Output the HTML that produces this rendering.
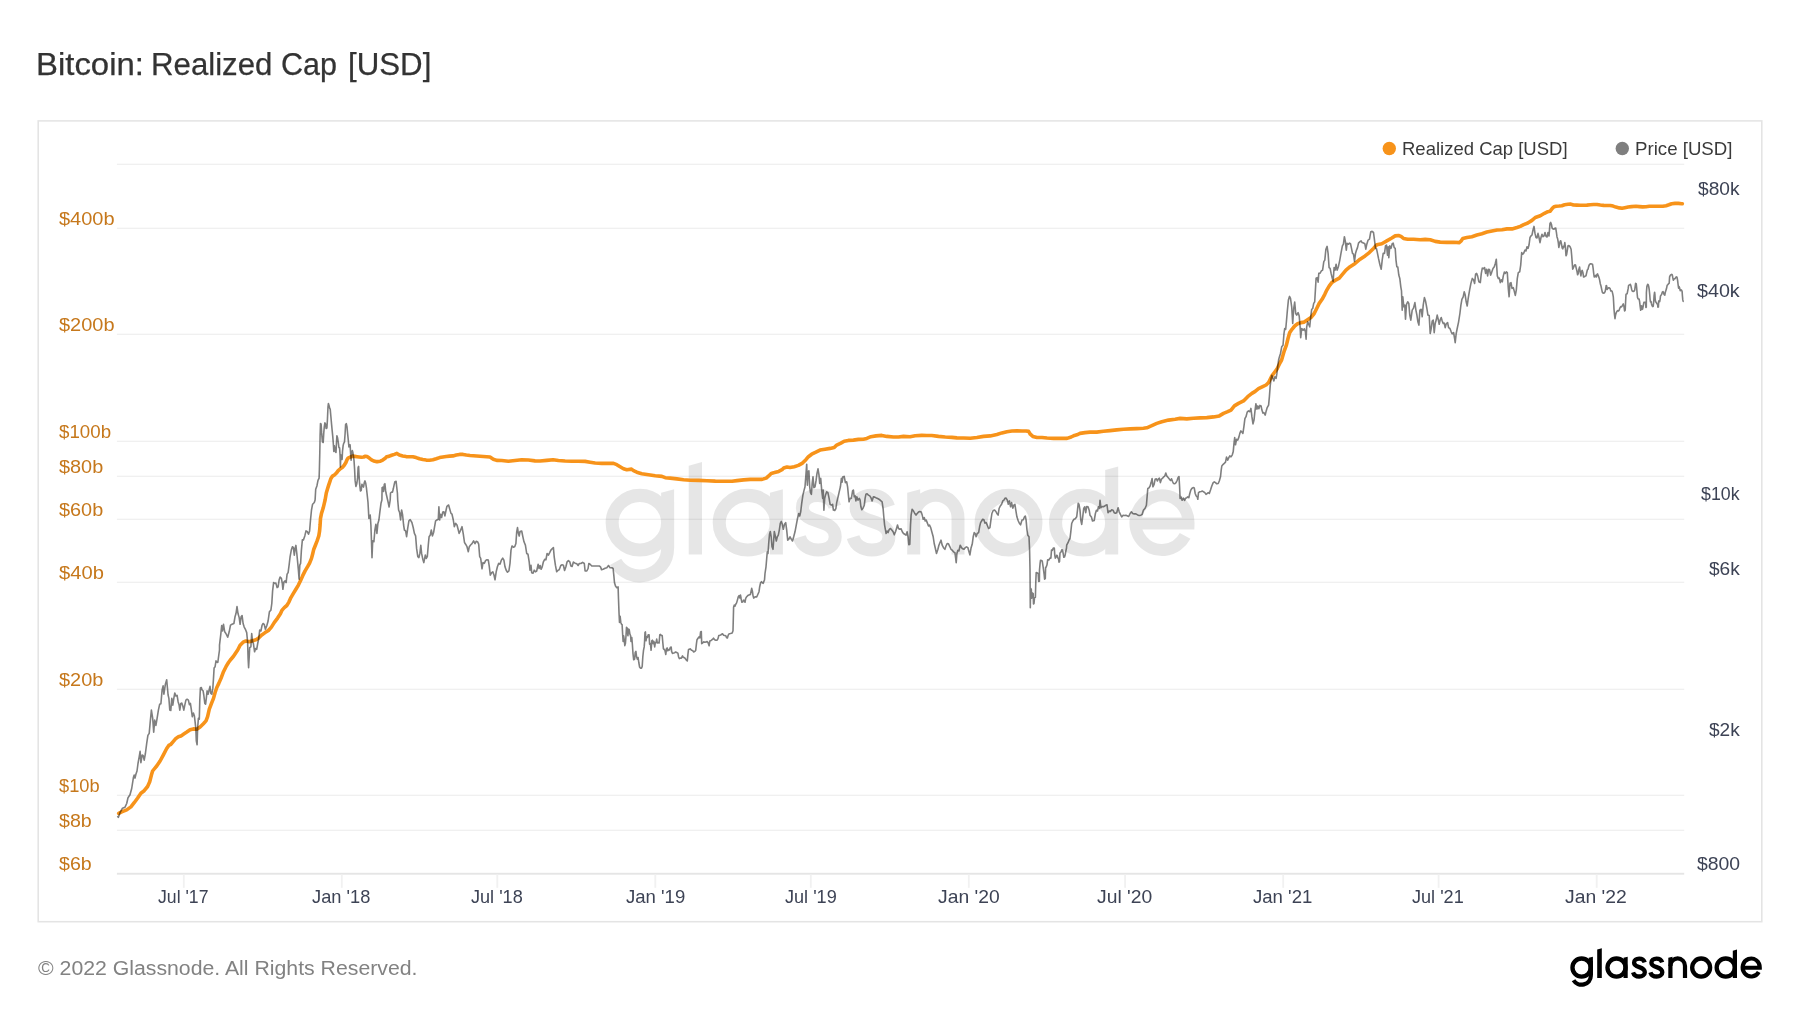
<!DOCTYPE html><html><head><meta charset="utf-8"><title>Bitcoin: Realized Cap [USD]</title><style>

html,body{margin:0;padding:0;background:#fff;}
body{width:1800px;height:1013px;position:relative;overflow:hidden;font-family:"Liberation Sans",sans-serif;}
#txt{position:absolute;left:0;top:0;width:1800px;height:1013px;will-change:transform;}
.t{position:absolute;white-space:nowrap;line-height:1;transform-origin:0 50%;}
.tt{font-size:31px;color:#333333;-webkit-text-stroke:0.25px #333333;}
.ll{font-size:18.6px;color:#c6781c;}
.rl{font-size:18.6px;color:#3d4355;}
.xl{font-size:18.6px;color:#3d4355;}
.lg{font-size:17.7px;color:#3a3a3a;}
.foot{font-size:20px;color:#828282;}

</style></head><body>
<svg width="1800" height="1013" viewBox="0 0 1800 1013" style="position:absolute;left:0;top:0"><rect x="38.2" y="120.9" width="1723.6" height="800.8" fill="#ffffff" stroke="#e4e4e4" stroke-width="1.55"/><rect x="116.9" y="163.65" width="1567.3" height="1.4" fill="#f0f0f0"/><rect x="116.9" y="227.65" width="1567.3" height="1.4" fill="#f0f0f0"/><rect x="116.9" y="333.65" width="1567.3" height="1.4" fill="#f0f0f0"/><rect x="116.9" y="440.65" width="1567.3" height="1.4" fill="#f0f0f0"/><rect x="116.9" y="475.65" width="1567.3" height="1.4" fill="#f0f0f0"/><rect x="116.9" y="518.65" width="1567.3" height="1.4" fill="#f0f0f0"/><rect x="116.9" y="581.65" width="1567.3" height="1.4" fill="#f0f0f0"/><rect x="116.9" y="688.65" width="1567.3" height="1.4" fill="#f0f0f0"/><rect x="116.9" y="794.65" width="1567.3" height="1.4" fill="#f0f0f0"/><rect x="116.9" y="829.65" width="1567.3" height="1.4" fill="#f0f0f0"/><rect x="116.9" y="872.8" width="1567.3" height="1.9" fill="#e5e5e5"/><rect x="182.9" y="874.5" width="1.8" height="13.3" fill="#f1f1f1"/><rect x="340.9" y="874.5" width="1.8" height="13.3" fill="#f1f1f1"/><rect x="496.4" y="874.5" width="1.8" height="13.3" fill="#f1f1f1"/><rect x="654.4" y="874.5" width="1.8" height="13.3" fill="#f1f1f1"/><rect x="809.9" y="874.5" width="1.8" height="13.3" fill="#f1f1f1"/><rect x="967.9" y="874.5" width="1.8" height="13.3" fill="#f1f1f1"/><rect x="1124.2" y="874.5" width="1.8" height="13.3" fill="#f1f1f1"/><rect x="1282.3" y="874.5" width="1.8" height="13.3" fill="#f1f1f1"/><rect x="1437.7" y="874.5" width="1.8" height="13.3" fill="#f1f1f1"/><rect x="1595.8" y="874.5" width="1.8" height="13.3" fill="#f1f1f1"/><g fill="none" stroke="#000" opacity="0.095"><ellipse cx="639.85" cy="522.70" rx="27.70" ry="27.30" stroke-width="13.1"/><polygon points="661.10,492.71 674.10,489.20 674.10,547.65 661.10,547.65" stroke="none" fill="#000"/><path d="M667.60,502.00 V548.65 A27.75,27.20 0 0 1 615.58,561.84" stroke-width="13.0"/><polygon points="688.70,465.69 702.00,462.10 702.00,554.58 688.70,554.58" stroke="none" fill="#000"/><ellipse cx="747.80" cy="522.70" rx="28.55" ry="27.30" stroke-width="13.1"/><polygon points="769.90,492.71 782.90,489.20 782.90,554.58 769.90,554.58" stroke="none" fill="#000"/><path transform="translate(793.60,556.40) scale(3.0377,3.0636)" d="M13.6,-16.2 C12.8,-18.6 10.6,-19.9 8,-19.9 C5,-19.9 2.9,-18.3 2.9,-15.9 C2.9,-10.3 13.7,-12.6 13.7,-6.4 C13.7,-3.7 11.3,-2.1 8.1,-2.1 C5,-2.1 2.7,-3.6 1.9,-6.3" stroke-width="4.294"/><path transform="translate(847.30,556.40) scale(3.0377,3.0636)" d="M13.6,-16.2 C12.8,-18.6 10.6,-19.9 8,-19.9 C5,-19.9 2.9,-18.3 2.9,-15.9 C2.9,-10.3 13.7,-12.6 13.7,-6.4 C13.7,-3.7 11.3,-2.1 8.1,-2.1 C5,-2.1 2.7,-3.6 1.9,-6.3" stroke-width="4.294"/><polygon points="907.20,492.71 920.20,489.20 920.20,554.58 907.20,554.58" stroke="none" fill="#000"/><path d="M913.70,517.94 A22.15,22.59 0 0 1 958.00,517.94 V554.58" stroke-width="13.0"/><ellipse cx="1008.55" cy="522.70" rx="27.40" ry="27.30" stroke-width="13.1"/><ellipse cx="1083.60" cy="522.70" rx="28.05" ry="27.30" stroke-width="13.1"/><polygon points="1105.20,470.11 1118.20,466.60 1118.20,554.58 1105.20,554.58" stroke="none" fill="#000"/><path d="M1135.75,523.51 H1188.45 A26.50,27.30 0 1 0 1185.13,535.94" stroke-width="12.18"/></g><path d="M118.7,813.4 L121.7,811.9 L126.7,809.9 L130.9,806.9 L134.2,802.7 L137.5,798.2 L140.9,793.2 L144.2,790.7 L147.6,786.5 L149.7,781.8 L151.4,775.1 L152.6,771.0 L154.2,769.0 L156.7,766.0 L160.1,761.0 L163.4,754.8 L166.7,748.5 L168.8,745.4 L170.9,744.3 L173.4,741.4 L175.9,738.4 L178.4,736.8 L180.9,736.1 L183.4,734.3 L186.8,732.1 L190.1,729.8 L193.4,728.9 L196.8,729.3 L200.1,727.1 L203.4,723.8 L206.0,720.9 L207.6,716.7 L209.3,709.2 L211.5,703.4 L213.5,698.4 L215.1,692.5 L216.8,687.5 L218.8,683.4 L221.0,678.4 L223.5,671.7 L226.0,666.7 L228.5,662.5 L231.0,659.2 L233.5,656.3 L236.0,652.5 L237.7,650.0 L240.1,645.2 L243.1,642.2 L245.9,641.0 L249.2,641.8 L252.6,640.7 L255.9,639.8 L258.4,638.2 L261.4,635.2 L265.1,632.6 L268.4,630.5 L271.4,627.1 L274.2,622.6 L277.6,618.1 L280.4,613.8 L282.1,610.1 L284.3,607.6 L286.8,605.5 L288.9,602.1 L290.9,597.6 L293.4,593.4 L295.9,589.3 L298.4,585.1 L300.6,580.4 L302.6,575.9 L305.1,570.9 L307.6,566.7 L309.6,563.1 L311.5,558.4 L312.6,554.2 L313.8,549.2 L315.5,545.0 L317.1,540.9 L318.8,535.9 L319.6,530.9 L320.1,525.0 L320.5,518.4 L321.5,513.4 L323.1,508.3 L324.3,503.3 L325.1,500.0 L326.3,493.0 L327.4,489.3 L328.6,485.4 L329.7,482.1 L330.8,478.7 L332.5,476.1 L334.7,474.8 L336.4,473.1 L338.0,470.9 L340.3,468.7 L342.5,467.2 L344.2,465.3 L345.9,462.5 L347.0,459.8 L348.1,458.1 L350.3,457.0 L352.5,456.1 L354.8,456.4 L357.0,456.7 L359.2,457.0 L361.5,457.3 L363.7,457.0 L365.4,456.2 L367.0,456.5 L369.3,458.1 L371.5,459.8 L373.7,461.0 L376.0,461.6 L378.2,461.6 L380.4,461.2 L382.7,460.1 L384.9,458.6 L386.6,456.7 L388.8,456.4 L391.6,455.3 L394.4,454.4 L396.9,453.4 L399.4,455.0 L402.7,455.9 L406.1,456.6 L409.4,456.7 L412.8,456.7 L416.1,457.6 L419.5,458.8 L422.8,459.5 L426.2,460.1 L429.5,460.3 L432.9,459.8 L436.2,458.8 L439.6,457.6 L442.9,457.0 L446.2,456.5 L449.6,456.1 L452.9,455.9 L456.3,455.0 L459.6,454.4 L463.0,454.4 L466.3,455.0 L470.0,455.5 L490.0,457.0 L493.3,459.2 L496.7,460.4 L501.7,460.5 L508.4,461.2 L515.0,460.5 L521.7,459.7 L528.4,460.0 L535.0,460.9 L540.1,461.0 L546.7,460.4 L553.1,459.7 L558.4,460.5 L565.1,461.0 L571.8,461.2 L578.4,461.2 L585.1,461.4 L590.1,462.2 L595.1,463.0 L601.8,463.4 L608.5,463.4 L613.5,463.4 L616.8,464.7 L620.1,466.7 L623.5,468.7 L626.8,469.7 L631.5,469.1 L633.5,470.6 L636.8,472.2 L641.8,473.7 L648.5,474.7 L655.2,475.7 L661.9,476.4 L665.2,477.7 L670.2,478.1 L676.9,478.9 L683.6,479.7 L690.2,480.2 L698.6,480.4 L706.9,480.7 L715.3,481.1 L723.6,481.2 L732.0,481.2 L737.0,480.6 L743.6,479.9 L750.3,479.4 L757.0,479.4 L762.0,479.4 L766.2,478.1 L768.7,475.9 L771.2,473.4 L774.5,472.6 L778.7,471.4 L782.0,469.7 L783.7,468.0 L787.0,467.0 L790.0,467.5 L794.2,466.7 L798.4,465.4 L802.5,463.1 L805.9,459.7 L808.4,456.7 L811.7,454.2 L815.9,452.2 L820.0,450.1 L825.0,449.2 L830.1,448.4 L834.2,447.6 L836.7,445.1 L840.9,443.1 L844.2,441.2 L848.4,440.4 L853.4,440.1 L858.4,439.4 L863.4,439.2 L866.8,438.4 L870.9,436.7 L876.0,435.9 L881.8,435.4 L886.8,436.4 L893.5,437.0 L898.5,437.0 L903.5,436.4 L910.1,436.7 L915.2,435.7 L921.8,435.4 L926.8,435.5 L931.8,435.5 L938.5,436.4 L945.2,437.0 L951.9,437.4 L956.9,437.9 L963.5,438.0 L970.2,438.2 L976.9,437.5 L983.6,436.4 L990.2,435.9 L996.9,434.5 L1001.9,432.9 L1006.9,431.7 L1011.9,431.0 L1016.9,430.9 L1022.0,431.0 L1026.1,431.0 L1028.6,431.4 L1030.3,434.2 L1032.8,436.4 L1037.0,437.5 L1042.0,437.5 L1047.0,438.0 L1053.7,438.4 L1060.3,438.4 L1067.0,438.4 L1071.2,437.0 L1074.5,435.4 L1077.8,434.5 L1080.0,433.4 L1085.0,432.6 L1090.0,432.1 L1096.7,432.1 L1103.4,431.2 L1110.0,430.6 L1116.7,429.9 L1123.4,429.2 L1130.1,428.9 L1136.7,428.6 L1143.4,428.2 L1146.8,427.8 L1151.8,425.7 L1156.8,423.4 L1161.8,421.7 L1168.5,420.1 L1175.1,419.2 L1180.1,418.4 L1186.8,418.9 L1193.5,418.2 L1200.2,417.9 L1206.8,417.6 L1213.5,416.9 L1219.3,415.9 L1223.5,413.4 L1227.7,411.7 L1231.0,410.1 L1234.4,405.9 L1238.5,403.4 L1243.5,400.9 L1247.7,396.7 L1251.9,393.4 L1255.2,391.4 L1258.5,388.7 L1262.7,386.7 L1266.1,385.0 L1268.6,382.5 L1270.2,379.2 L1271.9,375.9 L1274.4,372.5 L1276.9,369.2 L1278.6,365.8 L1280.2,362.5 L1281.6,360.0 L1284.2,351.0 L1286.4,345.2 L1288.0,338.5 L1289.7,332.6 L1292.0,329.3 L1294.7,326.0 L1297.6,323.8 L1300.9,322.6 L1304.2,322.1 L1307.6,319.8 L1310.9,317.6 L1314.2,313.5 L1316.7,308.5 L1319.2,303.4 L1322.1,299.3 L1324.8,294.3 L1326.8,290.1 L1329.3,285.9 L1331.8,282.6 L1335.1,280.4 L1339.3,278.1 L1342.6,274.2 L1346.0,270.1 L1350.1,266.7 L1355.1,263.4 L1360.1,259.2 L1365.1,255.9 L1369.3,252.6 L1373.5,248.4 L1376.8,244.7 L1381.8,243.7 L1386.8,240.9 L1391.8,238.0 L1395.2,235.9 L1398.5,235.5 L1401.0,236.4 L1403.5,238.4 L1407.7,239.2 L1413.5,239.2 L1420.2,239.7 L1425.2,239.4 L1430.2,239.7 L1435.2,241.4 L1440.2,242.1 L1446.9,242.4 L1453.6,242.2 L1459.4,242.6 L1461.1,240.9 L1462.8,238.4 L1466.9,237.5 L1471.9,236.7 L1476.9,235.0 L1481.9,233.7 L1486.9,232.0 L1492.0,230.9 L1497.0,230.0 L1502.0,229.7 L1507.0,228.9 L1512.0,228.9 L1517.0,227.5 L1520.3,226.4 L1523.7,224.7 L1527.8,223.0 L1532.0,220.4 L1535.3,217.5 L1540.3,215.8 L1544.5,213.3 L1547.8,211.7 L1550.0,211.3 L1552.3,208.4 L1554.0,206.8 L1556.2,206.2 L1559.0,206.0 L1561.8,205.7 L1564.6,204.8 L1568.0,204.3 L1570.8,204.1 L1573.5,205.0 L1576.9,205.1 L1580.2,205.2 L1583.6,205.2 L1586.9,205.1 L1590.3,204.7 L1593.6,204.5 L1597.0,204.5 L1600.3,205.0 L1603.7,205.4 L1607.0,205.5 L1610.3,205.5 L1613.1,206.1 L1615.9,207.1 L1619.3,207.9 L1622.1,208.3 L1624.8,207.7 L1628.2,207.0 L1631.5,206.6 L1636.0,206.3 L1639.3,206.6 L1642.7,206.9 L1646.0,206.8 L1649.4,206.3 L1653.8,206.3 L1658.3,206.3 L1662.8,206.2 L1666.1,205.7 L1668.9,204.8 L1671.7,203.7 L1675.0,203.4 L1678.4,203.4 L1681.7,203.7 L1682.3,203.8" fill="none" stroke="#f7931a" stroke-width="3.6" stroke-linejoin="round" stroke-linecap="round"/><path d="M117.5,816.0 L118.3,817.4 L120.0,812.7 L122.5,808.2 L125.0,807.2 L126.7,803.5 L128.0,797.7 L130.0,794.8 L131.7,788.5 L133.4,777.6 L134.2,775.1 L135.0,778.1 L135.9,774.3 L137.0,771.0 L138.0,763.5 L139.2,756.8 L140.1,751.3 L140.9,762.6 L142.1,755.1 L143.1,755.5 L144.2,760.1 L145.4,753.5 L146.7,743.4 L147.9,735.4 L149.2,733.4 L150.1,723.4 L151.4,710.1 L152.7,718.4 L153.7,732.1 L154.7,720.1 L155.9,725.4 L157.1,718.4 L158.4,710.1 L159.7,704.2 L160.9,703.7 L162.1,690.0 L163.1,685.9 L163.9,694.2 L165.4,684.2 L166.7,679.7 L167.4,687.5 L168.1,695.0 L168.9,698.4 L169.8,710.1 L170.8,710.4 L171.8,698.4 L172.8,705.1 L173.8,698.4 L174.8,693.0 L175.9,695.9 L177.1,695.4 L178.1,701.7 L179.1,705.1 L179.8,710.1 L180.8,703.4 L181.8,703.1 L182.8,705.9 L183.8,710.1 L184.8,705.1 L185.9,700.1 L187.1,699.2 L188.4,700.1 L189.4,704.7 L190.4,703.4 L191.4,710.1 L192.3,716.7 L193.4,713.1 L194.4,715.9 L195.1,721.8 L195.8,728.4 L196.3,740.9 L197.1,744.8 L197.6,728.4 L198.4,718.4 L199.3,719.2 L199.8,700.1 L200.4,688.0 L201.3,687.5 L202.1,690.0 L203.1,690.9 L203.8,695.0 L204.8,703.4 L205.6,704.2 L206.5,696.7 L207.1,690.9 L208.1,694.2 L209.1,690.0 L210.0,686.4 L210.8,693.4 L211.8,694.2 L212.8,688.4 L213.5,678.4 L214.1,668.0 L215.1,666.7 L216.0,660.9 L216.8,662.0 L217.8,662.5 L218.8,655.0 L219.5,650.0 L219.5,645.2 L220.7,635.2 L221.7,625.5 L222.5,631.0 L223.5,624.3 L224.7,631.8 L225.9,633.5 L227.7,637.2 L229.2,631.8 L230.5,625.1 L232.0,624.3 L233.9,623.5 L235.0,616.8 L236.0,613.5 L237.0,606.5 L238.0,613.5 L239.2,617.6 L240.1,624.3 L241.1,616.8 L242.1,615.6 L243.1,623.5 L244.2,627.1 L245.4,629.3 L246.7,632.6 L247.6,641.8 L248.1,658.5 L248.6,667.7 L249.2,656.9 L249.7,647.7 L250.9,646.8 L251.7,633.5 L252.6,641.8 L253.4,643.5 L254.6,651.8 L255.6,648.5 L256.7,649.3 L257.7,643.5 L258.7,638.5 L259.7,630.1 L260.9,631.0 L262.1,625.1 L263.1,623.5 L264.2,624.3 L265.4,629.3 L266.7,626.0 L268.1,621.0 L269.4,611.8 L270.9,610.1 L271.8,603.5 L272.6,590.9 L273.6,582.6 L274.8,583.4 L275.9,583.1 L277.1,587.6 L278.1,586.8 L279.1,580.1 L280.1,577.1 L281.4,578.4 L282.3,583.4 L282.9,589.3 L283.9,582.1 L285.1,580.9 L286.1,582.6 L287.1,574.2 L288.1,572.6 L289.1,565.1 L290.1,556.7 L291.3,550.1 L292.4,546.7 L293.4,547.6 L294.3,555.1 L295.1,548.4 L295.9,545.4 L296.8,553.4 L297.6,561.7 L298.4,570.1 L299.1,579.3 L299.8,565.1 L300.6,563.4 L301.4,550.1 L302.4,539.7 L303.4,540.0 L304.8,535.9 L306.0,530.9 L307.1,531.4 L308.5,534.2 L309.6,530.9 L310.5,520.0 L311.5,510.0 L312.6,504.2 L314.3,502.5 L315.1,500.0 L315.7,489.3 L316.9,486.0 L318.0,480.4 L319.1,478.2 L319.4,469.2 L319.8,452.5 L320.1,435.8 L320.5,423.5 L321.1,424.1 L321.6,432.4 L322.4,441.9 L323.2,442.5 L323.8,432.4 L324.3,426.9 L324.9,422.9 L325.6,424.1 L326.1,428.5 L326.9,428.0 L327.4,420.2 L328.0,406.8 L328.4,403.6 L329.1,405.7 L329.7,408.4 L330.2,409.0 L330.9,416.8 L331.6,424.6 L332.2,430.8 L332.8,436.9 L333.4,444.7 L333.8,451.4 L334.4,445.8 L334.9,449.2 L335.5,451.9 L336.0,452.5 L336.5,442.5 L336.9,435.8 L337.6,438.0 L338.3,442.5 L338.9,447.5 L339.6,448.0 L340.1,455.9 L340.4,467.0 L340.8,454.7 L341.4,459.2 L342.1,459.4 L342.5,451.4 L343.1,445.8 L343.6,443.6 L344.5,441.9 L345.1,433.5 L345.6,424.6 L346.3,423.7 L347.0,426.9 L347.6,433.5 L348.3,440.2 L348.9,446.9 L349.4,444.7 L350.1,444.7 L350.5,451.4 L351.1,460.3 L351.6,453.6 L352.3,450.5 L352.9,452.5 L353.4,455.9 L354.0,460.3 L354.6,469.2 L355.1,480.4 L355.9,486.5 L356.8,483.7 L357.6,478.2 L358.1,467.6 L358.6,466.4 L359.0,474.8 L359.6,483.7 L360.4,491.0 L361.2,490.4 L361.9,484.3 L362.6,485.4 L363.5,487.1 L364.3,482.6 L365.0,480.9 L365.7,483.2 L366.4,487.6 L367.0,493.0 L368.0,502.5 L368.9,518.4 L370.2,515.0 L370.9,525.0 L371.5,541.7 L372.0,557.6 L372.7,540.9 L373.9,541.7 L374.9,530.0 L375.9,524.2 L376.9,533.4 L377.9,523.4 L378.9,520.0 L379.9,511.7 L381.0,503.3 L381.9,500.0 L382.1,487.6 L382.9,487.1 L383.6,491.5 L384.3,484.3 L384.9,483.7 L385.6,490.4 L386.0,493.0 L388.2,502.5 L389.1,507.0 L390.2,500.0 L390.5,493.0 L391.6,492.1 L392.5,492.1 L393.3,488.8 L394.4,483.7 L394.9,481.7 L396.1,481.3 L396.6,486.0 L397.4,493.0 L397.7,500.0 L398.6,510.0 L399.6,512.5 L400.6,520.0 L401.6,510.0 L402.6,515.0 L403.6,525.0 L404.4,530.0 L405.6,530.9 L406.6,536.7 L407.7,528.4 L408.9,520.9 L410.2,519.7 L411.9,522.5 L413.2,527.5 L414.4,533.4 L415.6,535.9 L416.6,548.4 L417.8,556.7 L418.9,557.6 L419.9,553.4 L420.8,545.4 L421.6,553.4 L422.8,559.2 L423.8,562.6 L425.3,555.1 L426.3,558.4 L427.3,556.7 L428.3,545.0 L429.1,536.7 L430.3,535.0 L431.3,530.0 L432.4,535.9 L433.6,532.5 L434.6,526.7 L435.6,520.9 L436.9,520.0 L438.3,519.2 L438.9,506.7 L439.6,520.0 L440.6,514.2 L441.6,517.5 L442.8,512.0 L443.9,511.7 L444.9,515.9 L446.1,510.0 L446.9,506.3 L448.6,505.0 L449.8,509.2 L451.0,513.4 L452.0,514.2 L453.3,520.0 L454.3,526.7 L455.6,523.4 L457.0,525.0 L458.1,529.2 L459.1,533.4 L460.3,530.9 L462.0,526.7 L463.3,534.2 L464.5,542.5 L465.6,544.2 L467.0,546.7 L468.3,551.7 L469.3,546.7 L470.6,545.0 L472.0,543.7 L473.6,540.9 L475.0,543.7 L476.2,541.4 L477.5,541.7 L478.7,544.2 L479.7,556.7 L480.7,558.4 L482.0,568.8 L483.0,562.6 L484.3,563.4 L485.7,560.4 L487.0,559.7 L488.3,560.1 L489.3,566.7 L490.3,575.1 L491.7,572.6 L492.8,571.8 L494.0,575.1 L495.0,579.8 L496.2,571.8 L497.4,566.7 L498.7,563.4 L500.0,564.2 L501.4,560.1 L502.7,558.1 L503.9,560.1 L505.0,566.8 L506.2,570.2 L507.5,572.2 L508.9,571.0 L510.0,563.5 L511.0,550.1 L512.0,546.0 L513.4,547.1 L514.7,546.8 L515.9,543.5 L516.7,531.8 L517.5,527.6 L518.4,533.5 L519.2,536.0 L520.0,531.5 L521.7,531.0 L522.9,536.8 L524.0,541.8 L525.4,545.1 L526.7,553.5 L528.0,554.3 L529.2,561.8 L530.0,570.2 L531.0,565.2 L531.7,572.7 L533.0,573.2 L534.2,570.2 L535.4,571.8 L536.7,571.0 L538.1,564.3 L539.1,568.5 L540.1,565.5 L541.1,569.3 L542.1,567.2 L543.4,561.8 L544.7,559.3 L545.9,559.8 L547.1,553.5 L548.4,555.1 L549.7,552.6 L550.9,550.1 L552.1,548.8 L553.4,547.6 L554.2,556.8 L555.4,565.2 L556.7,571.8 L558.1,570.2 L559.2,569.8 L560.8,565.5 L562.1,564.8 L563.4,565.2 L564.6,570.5 L565.9,566.8 L567.1,561.8 L568.4,560.6 L569.8,561.8 L570.9,566.0 L572.1,566.5 L573.4,562.1 L575.1,563.2 L576.8,563.8 L578.1,565.5 L579.3,563.5 L580.9,563.5 L582.6,562.3 L584.3,563.5 L585.1,571.0 L586.8,571.0 L588.1,568.5 L588.8,563.5 L590.1,564.3 L591.8,566.0 L594.3,566.0 L596.8,566.0 L599.3,566.0 L600.5,566.8 L601.5,569.8 L603.1,569.3 L605.1,568.2 L606.8,567.7 L608.5,565.5 L610.1,567.7 L611.8,567.7 L613.1,568.5 L613.8,575.2 L614.5,582.7 L615.5,586.0 L616.8,587.7 L618.1,586.9 L618.5,599.0 L619.0,612.4 L619.5,622.4 L620.1,616.2 L620.8,622.4 L621.4,624.1 L622.1,624.6 L622.6,633.5 L623.1,641.4 L623.6,635.8 L624.3,640.2 L624.8,645.6 L625.4,643.6 L626.0,635.8 L626.5,627.4 L627.2,628.0 L627.9,635.8 L628.6,629.1 L629.2,629.6 L629.9,634.1 L630.6,635.8 L631.0,641.4 L631.8,637.5 L632.4,644.7 L633.0,653.6 L633.7,659.8 L634.6,659.2 L635.2,652.5 L635.9,651.4 L636.6,657.0 L637.4,659.2 L638.1,657.5 L638.8,662.5 L639.6,667.0 L640.4,668.1 L641.5,668.1 L642.2,666.5 L642.8,657.0 L643.5,650.3 L644.2,646.9 L644.6,641.4 L645.0,632.4 L645.4,631.9 L646.0,640.8 L646.6,636.9 L647.4,637.5 L648.2,634.7 L649.1,634.7 L649.6,644.1 L650.4,643.6 L651.1,650.3 L651.8,640.8 L652.4,640.2 L653.1,643.6 L653.9,641.4 L654.7,646.9 L655.3,643.0 L656.1,642.5 L656.7,639.1 L657.3,643.0 L658.2,642.5 L659.1,643.0 L659.8,634.7 L660.5,634.4 L661.4,635.5 L662.2,635.5 L662.8,642.5 L663.4,648.6 L664.1,649.4 L664.9,650.3 L665.8,654.5 L666.5,648.6 L667.3,648.0 L667.8,650.8 L668.6,649.7 L669.4,650.0 L670.3,647.5 L671.2,647.1 L671.6,651.4 L672.5,653.4 L673.6,653.1 L674.7,652.7 L675.6,652.0 L676.7,652.5 L677.9,653.1 L678.6,657.0 L679.4,658.6 L680.3,658.1 L681.4,658.1 L682.5,655.9 L683.4,657.5 L684.3,657.5 L685.3,658.6 L686.5,660.3 L687.3,660.9 L687.9,654.7 L688.5,649.7 L689.2,649.2 L690.4,648.9 L691.5,650.3 L692.6,650.5 L693.7,652.0 L694.8,651.4 L695.7,650.3 L696.4,644.1 L697.0,639.7 L698.2,638.0 L699.0,636.9 L699.9,638.0 L700.6,631.9 L701.3,631.5 L701.7,643.6 L702.6,643.0 L703.7,641.9 L704.9,642.2 L706.0,641.9 L707.3,641.6 L708.2,643.0 L709.1,645.8 L709.8,641.1 L710.6,640.8 L711.5,640.2 L712.7,639.1 L713.5,638.2 L714.7,639.7 L715.8,640.2 L717.1,640.2 L718.0,638.6 L718.8,635.5 L719.9,635.2 L721.0,634.7 L722.5,633.8 L723.6,635.2 L724.7,635.5 L725.8,635.8 L726.6,637.8 L727.4,638.0 L728.3,634.9 L729.2,633.8 L730.5,633.5 L732.2,633.0 L733.0,630.8 L733.3,619.0 L733.6,607.3 L734.3,605.1 L735.0,606.2 L735.6,604.5 L736.6,602.9 L737.4,600.1 L738.3,596.7 L739.2,595.6 L739.9,597.9 L740.5,595.1 L741.2,599.0 L741.9,602.3 L742.8,601.8 L743.7,600.1 L744.5,600.6 L745.0,602.3 L745.7,598.4 L746.7,596.7 L747.8,595.6 L748.9,595.1 L750.4,594.5 L751.1,591.1 L751.7,588.4 L752.4,591.1 L753.0,595.6 L753.7,598.1 L754.5,597.3 L755.6,596.7 L756.7,597.0 L757.8,594.5 L759.0,591.7 L759.7,586.7 L760.6,582.8 L761.5,581.7 L762.3,582.8 L763.2,583.4 L764.0,581.1 L764.5,580.0 L765.0,573.5 L766.0,566.8 L766.7,558.5 L767.3,551.8 L768.0,553.5 L768.7,543.5 L769.5,534.3 L770.3,531.5 L771.2,536.8 L772.0,546.8 L773.0,549.3 L773.7,540.1 L774.3,531.5 L775.3,536.0 L776.3,541.0 L777.3,536.8 L778.3,535.1 L779.3,530.1 L780.3,523.4 L781.3,521.4 L782.3,524.3 L783.3,529.3 L784.5,524.3 L785.7,522.6 L786.7,530.1 L787.7,540.1 L788.7,539.3 L790.0,536.8 L791.4,539.3 L792.5,541.0 L793.7,536.8 L795.0,531.8 L796.4,524.3 L797.5,518.5 L798.7,513.5 L799.7,516.0 L800.7,511.8 L801.7,503.4 L802.9,495.1 L803.9,490.9 L805.0,486.8 L805.9,475.1 L806.7,464.2 L807.4,485.1 L808.0,471.8 L808.9,470.9 L809.7,486.8 L810.5,492.6 L811.4,494.3 L812.2,483.4 L813.0,476.8 L813.9,487.6 L815.0,486.8 L816.0,480.9 L817.0,473.4 L818.0,468.8 L819.0,475.1 L819.7,483.4 L820.7,478.4 L821.7,490.1 L822.7,498.4 L823.2,490.1 L823.9,510.1 L824.7,498.4 L825.5,495.1 L826.7,491.8 L827.9,492.6 L829.1,498.4 L830.1,504.3 L831.4,505.1 L832.6,504.3 L833.4,510.1 L834.7,510.5 L835.9,508.5 L836.7,502.6 L838.1,496.8 L839.2,491.8 L840.4,486.8 L841.4,478.4 L842.1,482.1 L842.9,476.8 L844.2,476.4 L845.4,482.6 L846.7,481.8 L847.6,486.8 L848.4,495.1 L849.1,501.8 L850.1,498.4 L851.4,498.4 L852.6,490.9 L853.4,490.1 L854.2,496.8 L855.1,495.9 L855.9,500.9 L856.8,496.8 L858.1,500.1 L859.3,498.4 L860.1,500.1 L860.9,506.8 L861.8,509.8 L862.9,508.5 L864.3,505.1 L865.1,498.4 L865.9,494.3 L867.1,493.8 L868.4,495.1 L869.8,495.9 L870.9,497.6 L872.1,500.9 L873.4,496.8 L874.8,497.1 L876.5,498.1 L878.1,498.8 L879.8,499.8 L881.0,500.9 L882.1,501.8 L883.1,508.5 L883.8,516.8 L884.6,525.1 L885.5,530.1 L886.1,533.5 L887.1,531.0 L888.1,532.6 L889.3,529.3 L890.5,528.5 L891.8,530.1 L893.1,531.8 L894.3,534.8 L895.5,531.8 L896.5,528.5 L897.5,525.1 L898.5,528.5 L899.8,529.3 L901.1,528.8 L902.3,531.8 L903.5,533.5 L904.8,534.3 L906.0,535.2 L907.1,531.8 L908.1,536.8 L908.8,544.8 L909.8,544.3 L910.5,525.1 L911.1,515.1 L912.1,509.3 L913.5,511.0 L914.8,513.5 L916.0,515.1 L917.2,513.5 L918.5,512.1 L919.8,511.5 L921.2,512.1 L922.2,515.1 L923.2,519.3 L924.3,517.6 L925.2,521.0 L926.2,520.1 L927.2,522.6 L928.5,526.0 L929.5,525.1 L930.7,527.6 L931.8,531.8 L933.2,536.8 L934.2,543.5 L935.2,547.7 L936.5,553.5 L937.9,549.3 L938.9,545.2 L939.9,542.7 L941.0,540.2 L942.2,545.2 L943.5,547.7 L944.9,549.3 L946.0,546.0 L947.2,543.5 L948.5,543.8 L949.9,546.8 L951.0,549.3 L952.2,550.2 L953.5,551.8 L954.9,552.7 L955.7,558.5 L956.2,562.7 L956.9,553.5 L957.9,550.2 L958.9,551.0 L960.2,545.2 L961.5,547.7 L962.7,548.8 L964.0,549.3 L965.2,547.7 L966.5,546.8 L967.9,547.7 L969.0,551.8 L969.9,554.9 L971.1,547.7 L972.2,544.3 L973.2,536.8 L974.2,532.6 L975.2,533.5 L976.1,536.8 L977.2,533.5 L978.6,532.6 L979.6,526.8 L980.6,522.6 L981.6,521.0 L982.7,519.3 L983.9,519.8 L984.9,523.1 L986.2,522.6 L987.6,526.0 L988.6,528.5 L989.9,527.6 L990.9,520.1 L991.9,513.5 L993.2,510.5 L994.6,510.1 L995.9,511.5 L996.9,513.5 L998.1,515.1 L999.1,508.5 L1000.3,506.0 L1001.6,504.3 L1002.8,500.9 L1003.9,500.1 L1004.9,498.4 L1006.1,498.1 L1007.3,500.1 L1008.3,504.3 L1009.4,500.9 L1010.6,506.8 L1011.6,502.6 L1012.8,508.1 L1013.9,505.1 L1014.9,504.3 L1015.8,510.1 L1016.9,516.8 L1018.3,521.0 L1019.5,523.5 L1020.6,524.8 L1022.0,520.1 L1023.3,519.8 L1024.5,516.8 L1025.3,516.0 L1026.1,520.1 L1027.0,530.1 L1027.8,535.2 L1029.0,536.8 L1029.6,550.2 L1030.0,569.0 L1030.3,607.7 L1030.5,588.3 L1031.3,589.3 L1031.6,598.3 L1032.3,593.0 L1033.2,593.6 L1033.5,604.0 L1034.0,603.4 L1034.5,597.7 L1035.4,597.3 L1035.8,581.6 L1036.2,572.5 L1036.8,572.7 L1038.2,573.5 L1038.7,581.4 L1039.4,581.2 L1039.5,570.1 L1040.1,563.4 L1040.5,560.4 L1041.5,560.6 L1042.2,560.9 L1043.2,567.5 L1044.2,574.9 L1044.6,579.2 L1045.3,578.5 L1045.6,567.5 L1046.2,567.1 L1047.0,564.8 L1047.7,559.7 L1048.8,560.1 L1049.6,558.7 L1050.4,557.7 L1050.9,558.1 L1051.5,550.0 L1052.3,550.4 L1053.3,548.0 L1054.3,548.0 L1054.8,555.4 L1055.3,558.1 L1056.2,556.7 L1056.6,555.2 L1057.3,555.7 L1057.8,557.7 L1058.5,558.7 L1059.0,562.1 L1059.5,561.8 L1060.0,553.0 L1061.0,552.0 L1061.8,549.7 L1062.5,550.0 L1063.4,554.7 L1063.8,557.3 L1064.5,557.1 L1065.2,554.7 L1065.8,551.4 L1066.5,548.0 L1066.7,545.2 L1068.0,542.7 L1069.0,540.2 L1070.0,538.5 L1070.8,531.8 L1071.7,523.5 L1072.8,521.0 L1074.0,519.3 L1075.3,518.8 L1076.7,516.8 L1077.5,510.1 L1078.2,503.4 L1079.0,504.3 L1080.0,510.1 L1080.8,520.2 L1081.7,524.4 L1082.7,516.9 L1083.7,508.5 L1084.7,506.8 L1085.7,512.7 L1086.7,506.5 L1088.0,506.8 L1089.2,510.2 L1090.0,515.2 L1091.4,516.9 L1092.5,521.0 L1094.2,520.5 L1095.4,513.5 L1096.4,510.2 L1097.5,511.0 L1098.4,506.8 L1099.4,508.5 L1100.0,500.2 L1100.9,507.7 L1102.0,506.5 L1103.4,506.8 L1104.7,506.0 L1105.9,505.2 L1107.0,504.8 L1108.0,512.7 L1109.2,511.0 L1110.4,511.5 L1111.7,509.8 L1113.0,510.2 L1114.2,512.7 L1115.4,513.2 L1116.7,512.7 L1118.1,507.7 L1119.2,511.8 L1120.4,514.4 L1121.7,516.9 L1123.1,515.2 L1124.4,515.5 L1125.9,515.2 L1127.6,516.0 L1128.7,516.5 L1130.1,513.5 L1131.4,511.8 L1132.7,513.5 L1134.2,513.9 L1135.9,513.9 L1137.6,514.9 L1139.2,515.5 L1140.9,515.2 L1142.1,514.4 L1143.4,510.2 L1145.1,508.2 L1146.4,505.2 L1147.1,496.8 L1147.8,488.5 L1148.8,488.1 L1150.1,486.0 L1151.1,482.6 L1152.1,478.5 L1152.9,486.8 L1154.1,484.3 L1155.1,479.3 L1156.4,478.8 L1157.4,481.0 L1158.4,478.8 L1159.4,478.1 L1160.4,482.6 L1161.4,479.3 L1162.6,478.1 L1163.8,476.8 L1164.8,476.0 L1165.8,473.1 L1166.8,476.0 L1168.1,477.6 L1169.5,479.3 L1170.5,480.5 L1171.5,478.8 L1172.5,481.5 L1173.5,483.5 L1174.8,483.8 L1176.0,482.6 L1177.1,480.5 L1178.1,477.6 L1179.0,476.5 L1179.6,486.8 L1180.1,498.5 L1181.1,497.2 L1182.1,500.2 L1183.5,498.2 L1184.6,500.5 L1185.6,498.2 L1186.8,497.7 L1187.8,496.8 L1188.8,497.7 L1189.8,493.5 L1190.8,490.1 L1191.8,488.5 L1193.1,487.6 L1194.3,488.1 L1195.2,493.5 L1196.2,496.0 L1197.2,496.8 L1197.8,499.3 L1198.5,492.6 L1199.8,491.8 L1201.2,491.5 L1202.5,491.0 L1203.5,491.8 L1204.8,492.6 L1206.0,494.3 L1207.2,493.5 L1208.2,492.6 L1209.3,493.5 L1210.5,490.1 L1211.8,486.0 L1213.2,482.6 L1214.3,481.8 L1215.5,482.6 L1216.8,483.8 L1218.2,483.5 L1219.3,481.0 L1220.5,476.8 L1221.2,470.1 L1221.8,466.0 L1223.2,464.3 L1224.5,463.1 L1225.5,462.1 L1226.5,457.1 L1227.7,460.1 L1228.8,457.6 L1229.8,455.9 L1231.0,456.8 L1232.2,455.1 L1233.2,451.8 L1234.0,443.4 L1234.7,437.6 L1235.5,444.8 L1236.5,439.3 L1237.7,440.1 L1238.9,437.1 L1239.9,433.1 L1240.9,430.9 L1241.9,432.1 L1242.9,433.4 L1243.9,426.7 L1244.9,418.7 L1246.0,416.7 L1247.2,412.1 L1248.5,410.9 L1249.9,411.7 L1250.9,408.4 L1251.9,416.7 L1253.0,423.9 L1254.0,420.1 L1254.9,411.7 L1255.9,403.7 L1256.9,409.2 L1257.9,405.9 L1258.9,408.7 L1259.9,405.4 L1261.1,405.9 L1261.9,410.1 L1262.9,413.1 L1263.9,412.6 L1265.2,415.1 L1266.2,410.9 L1267.2,407.6 L1268.6,405.1 L1269.4,396.7 L1270.2,385.9 L1271.1,378.4 L1271.9,375.4 L1272.9,378.4 L1273.9,380.9 L1274.9,376.7 L1276.1,378.4 L1276.9,373.4 L1277.7,366.7 L1278.6,360.0 L1279.4,356.9 L1280.5,353.5 L1281.7,346.8 L1283.0,345.2 L1284.0,333.5 L1284.7,328.5 L1285.7,329.3 L1286.4,321.8 L1287.4,310.1 L1288.4,300.1 L1289.5,296.4 L1290.5,298.4 L1291.7,306.8 L1292.7,323.5 L1293.7,308.5 L1294.7,302.1 L1295.7,313.5 L1296.7,315.1 L1298.1,312.6 L1299.2,316.0 L1300.1,326.8 L1300.7,337.7 L1301.7,328.5 L1303.1,330.1 L1304.4,328.8 L1305.4,331.8 L1306.1,339.3 L1306.7,326.8 L1307.7,321.8 L1308.7,324.3 L1309.7,326.8 L1310.7,316.8 L1311.7,309.3 L1312.7,308.5 L1313.7,303.4 L1314.7,301.8 L1315.4,290.1 L1316.1,278.1 L1317.1,277.6 L1318.1,282.1 L1318.8,273.4 L1320.1,273.1 L1321.4,270.9 L1322.6,270.1 L1323.8,261.7 L1324.8,260.1 L1325.9,249.2 L1327.1,246.4 L1328.1,253.4 L1329.1,267.6 L1330.1,268.4 L1331.1,273.4 L1332.1,277.6 L1333.1,281.4 L1334.1,267.6 L1335.1,270.1 L1336.1,264.2 L1337.1,270.1 L1338.4,266.7 L1339.8,260.1 L1341.1,252.6 L1342.4,245.9 L1343.4,244.2 L1344.4,236.7 L1345.4,241.7 L1346.3,250.1 L1347.1,243.4 L1348.5,244.2 L1349.5,243.1 L1350.5,243.7 L1351.5,248.4 L1352.5,253.4 L1353.5,254.2 L1354.5,261.4 L1355.5,253.4 L1356.5,250.1 L1357.5,247.6 L1358.5,243.1 L1359.8,241.7 L1361.1,240.9 L1362.1,242.6 L1363.5,243.1 L1364.8,243.7 L1365.8,249.2 L1366.8,244.2 L1368.1,240.1 L1369.5,239.2 L1370.8,231.7 L1372.1,231.4 L1373.5,232.5 L1374.5,240.1 L1375.5,248.4 L1376.5,248.7 L1377.5,253.4 L1378.5,258.4 L1379.8,264.2 L1381.2,269.2 L1382.2,260.1 L1383.2,253.4 L1384.5,253.4 L1385.5,245.9 L1386.5,245.1 L1387.5,255.1 L1388.2,246.7 L1388.8,257.6 L1389.8,245.9 L1391.0,248.4 L1392.2,243.7 L1393.2,243.1 L1394.2,247.6 L1395.2,248.4 L1396.0,260.1 L1396.8,266.7 L1397.8,267.1 L1398.8,275.1 L1399.8,278.4 L1400.8,286.8 L1401.5,290.9 L1402.2,310.1 L1402.8,296.8 L1403.8,306.8 L1404.8,305.1 L1405.5,319.3 L1406.5,304.3 L1407.7,301.8 L1408.8,303.4 L1409.8,315.1 L1410.8,320.1 L1412.2,310.1 L1413.5,308.1 L1414.9,302.6 L1415.9,310.1 L1416.9,315.1 L1417.9,321.8 L1418.9,325.1 L1419.9,310.1 L1421.2,309.3 L1422.2,316.8 L1423.2,305.1 L1424.4,297.6 L1425.5,300.9 L1426.9,308.5 L1427.9,315.1 L1429.2,315.5 L1430.2,333.5 L1431.2,328.5 L1432.2,321.0 L1433.2,320.1 L1434.2,332.6 L1435.2,323.5 L1436.2,320.1 L1437.2,315.1 L1438.2,319.3 L1439.2,324.3 L1440.2,319.8 L1441.2,317.6 L1442.2,321.0 L1443.2,323.5 L1444.2,323.1 L1445.2,327.6 L1446.2,323.8 L1447.6,322.6 L1448.6,327.6 L1449.9,328.5 L1451.2,331.8 L1452.2,333.8 L1453.6,332.6 L1454.6,338.5 L1455.2,342.7 L1456.2,333.5 L1457.2,328.5 L1458.6,321.8 L1459.9,313.5 L1460.9,305.1 L1461.9,299.3 L1463.2,296.8 L1464.2,291.8 L1465.2,295.1 L1466.2,301.8 L1467.2,306.0 L1468.2,298.4 L1469.6,290.1 L1470.9,283.4 L1472.3,278.4 L1473.6,280.1 L1474.6,283.4 L1475.6,274.2 L1476.6,273.4 L1477.6,275.9 L1478.9,281.8 L1480.3,282.6 L1481.3,273.4 L1482.3,268.1 L1483.6,268.8 L1484.6,267.6 L1485.6,273.4 L1486.6,269.2 L1487.6,275.9 L1488.6,269.2 L1489.6,269.8 L1490.6,275.1 L1491.6,272.6 L1493.0,268.4 L1494.3,266.7 L1495.3,263.4 L1496.3,259.2 L1497.3,275.9 L1498.3,278.4 L1499.3,278.1 L1500.3,282.6 L1501.3,279.8 L1502.3,281.8 L1503.3,275.9 L1504.3,272.1 L1505.3,273.4 L1506.3,271.8 L1507.3,272.6 L1508.3,288.4 L1509.1,296.8 L1510.0,283.1 L1511.0,282.6 L1512.0,288.4 L1513.3,287.6 L1514.3,291.4 L1515.3,295.4 L1516.3,290.1 L1517.3,278.4 L1518.3,272.6 L1519.7,271.8 L1520.7,265.1 L1521.7,252.6 L1522.7,254.2 L1523.7,253.1 L1525.0,250.1 L1526.0,250.9 L1527.0,246.7 L1528.0,248.4 L1529.0,245.1 L1530.0,237.5 L1531.0,235.9 L1532.0,235.0 L1533.0,230.0 L1534.0,226.4 L1535.0,233.4 L1536.0,237.5 L1537.0,238.0 L1538.0,233.4 L1539.0,237.5 L1540.0,242.6 L1541.0,237.5 L1542.0,234.2 L1543.0,236.7 L1544.0,235.9 L1545.0,232.5 L1546.0,236.4 L1547.0,237.0 L1548.0,232.5 L1549.0,235.9 L1550.0,223.4 L1550.7,222.4 L1551.5,224.6 L1552.1,228.0 L1553.0,228.9 L1554.0,229.1 L1554.8,228.2 L1555.7,228.0 L1556.4,232.4 L1557.0,236.9 L1557.7,239.1 L1558.3,242.5 L1558.8,247.5 L1559.5,244.7 L1560.2,241.1 L1560.8,240.8 L1561.5,244.1 L1562.2,248.0 L1562.8,248.9 L1563.5,246.4 L1564.2,246.9 L1564.8,242.5 L1565.4,246.9 L1566.0,255.8 L1566.6,254.7 L1567.3,250.3 L1568.0,245.8 L1568.9,245.6 L1569.8,246.4 L1570.4,247.5 L1571.1,249.2 L1571.7,255.8 L1572.2,262.5 L1572.7,269.2 L1573.3,268.1 L1574.1,265.9 L1574.9,264.8 L1575.5,265.0 L1576.2,268.1 L1576.9,270.9 L1577.6,274.8 L1578.2,273.7 L1578.9,269.2 L1579.6,267.0 L1580.2,271.5 L1580.9,275.9 L1581.6,271.5 L1582.2,270.4 L1582.9,272.6 L1583.6,277.0 L1584.5,276.8 L1585.2,276.1 L1586.0,275.7 L1586.7,272.6 L1587.4,269.8 L1588.0,269.2 L1588.7,266.4 L1589.4,264.6 L1590.3,263.7 L1591.4,263.9 L1592.5,264.2 L1593.1,268.1 L1593.6,272.6 L1594.2,277.0 L1595.0,276.5 L1595.6,275.4 L1596.3,277.0 L1597.0,274.3 L1597.6,273.9 L1598.3,275.9 L1599.0,277.6 L1599.6,279.8 L1600.3,283.7 L1601.0,286.0 L1601.7,289.3 L1602.3,292.1 L1603.2,293.1 L1604.4,292.9 L1605.2,291.3 L1605.7,288.6 L1606.2,285.5 L1606.7,286.1 L1607.1,289.5 L1607.8,288.6 L1608.4,287.9 L1609.3,287.8 L1610.1,288.6 L1610.8,291.0 L1611.5,290.7 L1612.2,291.6 L1612.8,294.1 L1613.3,296.8 L1613.6,301.7 L1614.0,309.1 L1614.5,314.6 L1615.0,318.6 L1615.4,315.8 L1616.0,313.4 L1616.8,311.5 L1617.7,310.6 L1618.5,311.0 L1619.2,310.0 L1620.0,307.8 L1620.7,306.6 L1621.5,306.9 L1622.3,305.7 L1623.3,303.9 L1624.0,306.6 L1624.6,310.9 L1625.2,310.3 L1625.6,301.7 L1626.0,294.4 L1626.5,293.8 L1627.1,293.8 L1627.6,291.3 L1628.1,288.9 L1628.6,285.5 L1629.5,284.9 L1630.3,284.3 L1630.9,285.8 L1631.6,289.2 L1632.2,291.0 L1633.2,291.4 L1634.1,291.2 L1634.7,290.1 L1635.2,286.4 L1635.6,283.4 L1636.2,283.7 L1636.6,287.0 L1637.1,293.1 L1637.5,297.4 L1638.0,298.7 L1638.7,299.0 L1639.1,299.0 L1639.6,301.7 L1640.2,306.6 L1640.7,310.3 L1641.1,305.7 L1641.7,305.9 L1642.1,309.4 L1642.6,309.1 L1643.2,306.0 L1643.9,302.3 L1644.5,302.2 L1645.1,302.4 L1645.6,302.3 L1645.9,307.5 L1646.3,307.2 L1646.4,292.5 L1646.9,286.4 L1647.7,284.3 L1648.3,284.9 L1648.8,287.0 L1649.2,289.5 L1649.7,294.4 L1650.1,299.3 L1650.5,302.0 L1651.1,301.7 L1651.5,303.9 L1652.1,305.7 L1652.7,306.6 L1653.2,306.3 L1653.7,301.7 L1654.1,295.6 L1654.6,292.2 L1654.9,294.4 L1655.2,299.3 L1655.6,301.7 L1656.4,302.6 L1657.0,303.9 L1657.6,304.2 L1657.9,307.2 L1658.4,306.9 L1658.7,301.1 L1659.0,300.8 L1659.7,301.7 L1660.1,299.3 L1660.5,295.9 L1661.0,295.3 L1661.6,294.4 L1662.3,292.2 L1663.0,291.6 L1663.4,292.2 L1664.0,294.4 L1664.8,295.1 L1665.4,291.9 L1665.9,290.4 L1666.5,288.6 L1667.2,285.2 L1667.8,284.6 L1668.6,283.7 L1669.2,283.1 L1669.6,276.9 L1670.3,275.4 L1671.1,274.7 L1671.7,274.3 L1672.3,274.8 L1672.7,277.2 L1673.3,280.2 L1674.2,278.8 L1674.9,278.8 L1675.7,277.6 L1676.4,276.8 L1677.0,277.2 L1677.6,280.3 L1678.1,284.6 L1678.6,288.1 L1679.2,286.7 L1679.7,288.3 L1680.2,290.7 L1680.9,289.8 L1681.5,290.1 L1682.1,291.3 L1682.4,295.6 L1682.8,299.9 L1683.2,301.4 L1683.8,301.1" fill="none" stroke="#000" stroke-opacity="0.5" stroke-width="1.6" stroke-linejoin="round"/><circle cx="1389.3" cy="148.5" r="6.7" fill="#f7931a"/><circle cx="1622.3" cy="148.5" r="6.7" fill="#7f7f7f"/><g fill="none" stroke="#000"><ellipse cx="1581.60" cy="967.55" rx="9.13" ry="9.03" stroke-width="4.35"/><polygon points="1588.70,957.83 1592.90,956.70 1592.90,975.06 1588.70,975.06" stroke="none" fill="#000"/><path d="M1590.80,960.70 V976.06 A9.20,8.57 0 0 1 1573.55,980.21" stroke-width="4.2"/><polygon points="1597.20,949.44 1601.80,948.20 1601.80,978.00 1597.20,978.00" stroke="none" fill="#000"/><ellipse cx="1616.50" cy="967.55" rx="9.03" ry="9.03" stroke-width="4.35"/><polygon points="1623.50,957.83 1627.70,956.70 1627.70,978.00 1623.50,978.00" stroke="none" fill="#000"/><path transform="translate(1631.20,978.60) scale(0.9937,1.0045)" d="M13.6,-16.2 C12.8,-18.6 10.6,-19.9 8,-19.9 C5,-19.9 2.9,-18.3 2.9,-15.9 C2.9,-10.3 13.7,-12.6 13.7,-6.4 C13.7,-3.7 11.3,-2.1 8.1,-2.1 C5,-2.1 2.7,-3.6 1.9,-6.3" stroke-width="4.354"/><path transform="translate(1648.50,978.60) scale(1.0063,1.0045)" d="M13.6,-16.2 C12.8,-18.6 10.6,-19.9 8,-19.9 C5,-19.9 2.9,-18.3 2.9,-15.9 C2.9,-10.3 13.7,-12.6 13.7,-6.4 C13.7,-3.7 11.3,-2.1 8.1,-2.1 C5,-2.1 2.7,-3.6 1.9,-6.3" stroke-width="4.327"/><polygon points="1668.30,957.83 1672.50,956.70 1672.50,978.00 1668.30,978.00" stroke="none" fill="#000"/><path d="M1670.40,965.92 A7.30,7.45 0 0 1 1685.00,965.92 V978.00" stroke-width="4.2"/><ellipse cx="1701.15" cy="967.55" rx="8.97" ry="9.03" stroke-width="4.35"/><ellipse cx="1725.75" cy="967.55" rx="9.07" ry="9.03" stroke-width="4.35"/><polygon points="1732.80,950.73 1737.00,949.60 1737.00,978.00 1732.80,978.00" stroke="none" fill="#000"/><path d="M1742.88,967.82 H1759.83 A8.62,9.03 0 1 0 1758.74,971.93" stroke-width="4.05"/></g></svg>
<div id="txt">
<div class="t ll" id="l400b" style="left:59.24px;top:210.00px;transform:scaleX(1.0748)">$400b</div>
<div class="t ll" id="l200b" style="left:59.14px;top:316.00px;transform:scaleX(1.0736)">$200b</div>
<div class="t ll" id="l100b" style="left:59.48px;top:423.00px;transform:scaleX(1.0066)">$100b</div>
<div class="t ll" id="l80b" style="left:59.30px;top:458.00px;transform:scaleX(1.0685)">$80b</div>
<div class="t ll" id="l60b" style="left:59.30px;top:501.00px;transform:scaleX(1.0685)">$60b</div>
<div class="t ll" id="l40b" style="left:59.23px;top:564.00px;transform:scaleX(1.0849)">$40b</div>
<div class="t ll" id="l20b" style="left:59.27px;top:671.00px;transform:scaleX(1.0711)">$20b</div>
<div class="t ll" id="l10b" style="left:59.21px;top:777.00px;transform:scaleX(0.9810)">$10b</div>
<div class="t ll" id="l8b" style="left:59.40px;top:812.00px;transform:scaleX(1.0537)">$8b</div>
<div class="t ll" id="l6b" style="left:59.40px;top:855.00px;transform:scaleX(1.0537)">$6b</div>
<div class="t rl" id="r80k" style="left:1698.06px;top:179.90px;transform:scaleX(1.0302)">$80k</div>
<div class="t rl" id="r40k" style="left:1697.05px;top:282.20px;transform:scaleX(1.0596)">$40k</div>
<div class="t rl" id="r10k" style="left:1701.06px;top:485.00px;transform:scaleX(0.9552)">$10k</div>
<div class="t rl" id="r6k" style="left:1708.79px;top:560.20px;transform:scaleX(1.0268)">$6k</div>
<div class="t rl" id="r2k" style="left:1708.79px;top:720.70px;transform:scaleX(1.0268)">$2k</div>
<div class="t rl" id="r800" style="left:1697.02px;top:855.10px;transform:scaleX(1.0429)">$800</div>
<div class="t xl" id="xJul17" style="left:158.18px;top:888.20px;transform:scaleX(0.9491)">Jul '17</div>
<div class="t xl" id="xJan18" style="left:312.23px;top:888.20px;transform:scaleX(0.9817)">Jan '18</div>
<div class="t xl" id="xJul18" style="left:471.40px;top:888.20px;transform:scaleX(0.9732)">Jul '18</div>
<div class="t xl" id="xJan19" style="left:626.04px;top:888.20px;transform:scaleX(0.9972)">Jan '19</div>
<div class="t xl" id="xJul19" style="left:785.40px;top:888.20px;transform:scaleX(0.9732)">Jul '19</div>
<div class="t xl" id="xJan20" style="left:938.12px;top:888.20px;transform:scaleX(1.0378)">Jan '20</div>
<div class="t xl" id="xJul20" style="left:1097.15px;top:888.20px;transform:scaleX(1.0395)">Jul '20</div>
<div class="t xl" id="xJan21" style="left:1253.15px;top:888.20px;transform:scaleX(0.9985)">Jan '21</div>
<div class="t xl" id="xJul21" style="left:1412.23px;top:888.20px;transform:scaleX(0.9727)">Jul '21</div>
<div class="t xl" id="xJan22" style="left:1564.99px;top:888.20px;transform:scaleX(1.0387)">Jan '22</div>
<div class="t tt" id="t0" style="left:36.21px;top:49.20px;transform:scaleX(1.0615)">Bitcoin:</div>
<div class="t tt" id="t1" style="left:150.82px;top:49.20px;transform:scaleX(1.0063)">Realized</div>
<div class="t tt" id="t2" style="left:280.90px;top:49.20px;transform:scaleX(0.9835)">Cap</div>
<div class="t tt" id="t3" style="left:347.54px;top:49.20px;transform:scaleX(1.0082)">[USD]</div>
<div class="t lg" id="g0" style="left:1402.06px;top:141.05px;transform:scaleX(1.0462)">Realized Cap [USD]</div>
<div class="t lg" id="g1" style="left:1635.09px;top:141.05px;transform:scaleX(1.0551)">Price [USD]</div>
<div class="t foot" id="f0" style="left:37.98px;top:958.20px;transform:scaleX(1.0624)">© 2022 Glassnode. All Rights Reserved.</div>
</div></body></html>
